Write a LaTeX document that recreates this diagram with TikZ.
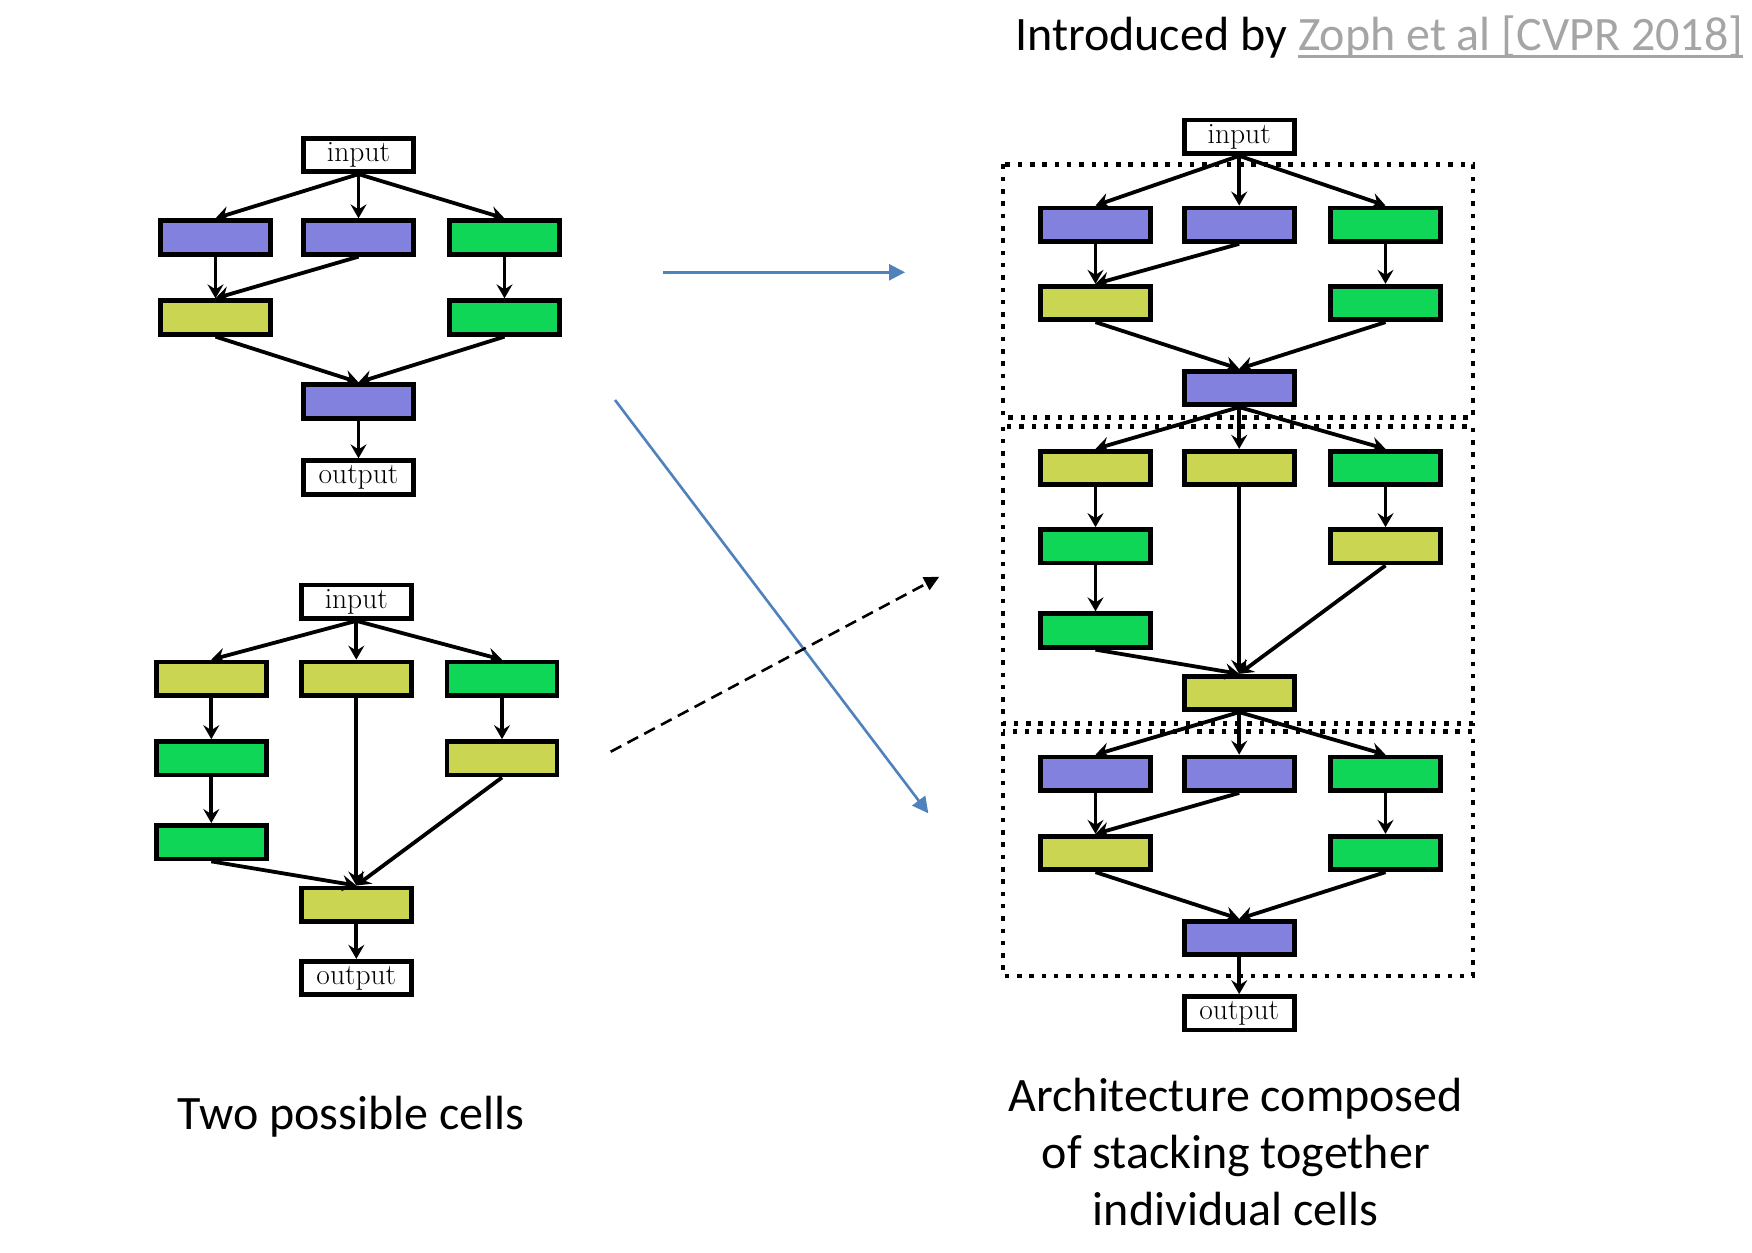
\documentclass[tikz,border=0pt]{standalone}
\usepackage{fontspec}
\newfontfamily\calibfont{Carlito}
\usetikzlibrary{arrows.meta}
\definecolor{opblue}{RGB}{130,130,222}
\definecolor{opgreen}{RGB}{16,214,88}
\definecolor{opyellow}{RGB}{202,213,82}
\definecolor{linkgray}{RGB}{165,165,165}
\definecolor{arrowblue}{RGB}{79,129,189}
\begin{document}
\begin{tikzpicture}[x=1pt,y=-1pt,
  op/.style={draw=black, line width=4.8pt, minimum width=110pt, minimum height=33.5pt, inner sep=0pt},
  bl/.style={op, fill=opblue},
  gr/.style={op, fill=opgreen},
  ye/.style={op, fill=opyellow},
  io/.style={op, fill=white, font=\fontsize{29.5}{34}\selectfont},
  conn/.style={line width=3.8pt, -{Stealth[length=14pt,width=16pt,inset=5pt]}},
  cellbox/.style={line width=4.5pt, dash pattern=on 4.5pt off 7.8pt},
  bigarrow/.style={arrowblue, line width=2.6pt, -{Triangle[length=16pt,width=16pt]}},
  dasharrow/.style={black, line width=2.6pt, dash pattern=on 12pt off 7pt, -{Triangle[length=15pt,width=14pt]}},
  caption/.style={anchor=base, inner sep=0pt, font=\calibfont\fontsize{48}{57}\selectfont},
]
\useasboundingbox (0,0) rectangle (1752,1252);
\fill[white] (0,0) rectangle (1752,1252);

% ---------- top-left cell ----------
\node[io] (a-in) at (358.5,155) {input};
\node[bl] (a-1) at (215.5,237.5) {};
\node[bl] (a-2) at (358.5,237.5) {};
\node[gr] (a-3) at (504.5,237.5) {};
\node[ye] (a-4) at (215.5,317.5) {};
\node[gr] (a-5) at (504.5,317.5) {};
\node[bl] (a-o) at (358.5,401.5) {};
\node[io] (a-out) at (358.5,477.5) {output};
\draw[conn] (a-in.south) -- (a-1.north);
\draw[conn] (a-in.south) -- (a-2.north);
\draw[conn] (a-in.south) -- (a-3.north);
\draw[conn] (a-1.south) -- (a-4.north);
\draw[conn] (a-2.south) -- (a-4.north);
\draw[conn] (a-3.south) -- (a-5.north);
\draw[conn] (a-4.south) -- (a-o.north);
\draw[conn] (a-5.south) -- (a-o.north);
\draw[conn] (a-o.south) -- (a-out.north);

% ---------- bottom-left cell ----------
\node[io] (b-in) at (356.3,601.7) {input};
\node[ye] (b-1) at (211.3,678.8) {};
\node[ye] (b-2) at (356.3,678.8) {};
\node[gr] (b-3) at (502,678.8) {};
\node[gr] (b-4) at (211.3,758.3) {};
\node[ye] (b-5) at (502,758.3) {};
\node[gr] (b-6) at (211.3,842.2) {};
\node[ye] (b-o) at (356.3,904.7) {};
\node[io] (b-out) at (356.3,978) {output};
\draw[conn] (b-in.south) -- (b-1.north);
\draw[conn] (b-in.south) -- (b-2.north);
\draw[conn] (b-in.south) -- (b-3.north);
\draw[conn] (b-1.south) -- (b-4.north);
\draw[conn] (b-4.south) -- (b-6.north);
\draw[conn] (b-3.south) -- (b-5.north);
\draw[conn] (b-6.south) -- (b-o.north);
\draw[conn] (b-2.south) -- (b-o.north);
\draw[conn] (b-5.south) -- (b-o.north);
\draw[conn] (b-o.south) -- (b-out.north);

% ---------- right architecture ----------
\draw[cellbox] (1003,164.5) rectangle (1473,417.5);
\draw[cellbox] (1003,426.5) rectangle (1473,723.3);
\draw[cellbox] (1003,731.7) rectangle (1473,976);

\node[io] (c-in) at (1239.2,136.7) {input};
% cell 1
\node[bl] (c1-1) at (1095.5,224.7) {};
\node[bl] (c1-2) at (1239.2,224.7) {};
\node[gr] (c1-3) at (1385.5,224.7) {};
\node[ye] (c1-4) at (1095.5,303) {};
\node[gr] (c1-5) at (1385.5,303) {};
\node[bl] (c1-o) at (1239.2,388) {};
% cell 2
\node[ye] (c2-1) at (1095.5,468) {};
\node[ye] (c2-2) at (1239.2,468) {};
\node[gr] (c2-3) at (1385.5,468) {};
\node[gr] (c2-4) at (1095.5,546.3) {};
\node[ye] (c2-5) at (1385.5,546.3) {};
\node[gr] (c2-6) at (1095.5,630.5) {};
\node[ye] (c2-o) at (1239.2,693) {};
% cell 3
\node[bl] (c3-1) at (1095.5,773.8) {};
\node[bl] (c3-2) at (1239.2,773.8) {};
\node[gr] (c3-3) at (1385.5,773.8) {};
\node[ye] (c3-4) at (1095.5,853) {};
\node[gr] (c3-5) at (1385.5,853) {};
\node[bl] (c3-o) at (1239.2,938) {};
\node[io] (c-out) at (1239.2,1013.3) {output};

\draw[conn] (c-in.south) -- (c1-1.north);
\draw[conn] (c-in.south) -- (c1-2.north);
\draw[conn] (c-in.south) -- (c1-3.north);
\draw[conn] (c1-1.south) -- (c1-4.north);
\draw[conn] (c1-2.south) -- (c1-4.north);
\draw[conn] (c1-3.south) -- (c1-5.north);
\draw[conn] (c1-4.south) -- (c1-o.north);
\draw[conn] (c1-5.south) -- (c1-o.north);

\draw[conn] (c1-o.south) -- (c2-1.north);
\draw[conn] (c1-o.south) -- (c2-2.north);
\draw[conn] (c1-o.south) -- (c2-3.north);
\draw[conn] (c2-1.south) -- (c2-4.north);
\draw[conn] (c2-4.south) -- (c2-6.north);
\draw[conn] (c2-3.south) -- (c2-5.north);
\draw[conn] (c2-6.south) -- (c2-o.north);
\draw[conn] (c2-2.south) -- (c2-o.north);
\draw[conn] (c2-5.south) -- (c2-o.north);

\draw[conn] (c2-o.south) -- (c3-1.north);
\draw[conn] (c2-o.south) -- (c3-2.north);
\draw[conn] (c2-o.south) -- (c3-3.north);
\draw[conn] (c3-1.south) -- (c3-4.north);
\draw[conn] (c3-2.south) -- (c3-4.north);
\draw[conn] (c3-3.south) -- (c3-5.north);
\draw[conn] (c3-4.south) -- (c3-o.north);
\draw[conn] (c3-5.south) -- (c3-o.north);
\draw[conn] (c3-o.south) -- (c-out.north);

% ---------- big arrows ----------
\coordinate (h1) at (663.3,272.3);
\coordinate (h2) at (905,272.3);
\draw[bigarrow] (h1) -- (h2);
\coordinate (d1) at (615,400);
\coordinate (d2) at (928.3,813.3);
\draw[bigarrow] (d1) -- (d2);
\coordinate (e1) at (610.7,751.7);
\coordinate (e2) at (939.3,576.7);
\draw[dasharrow] (e1) -- (e2);

% ---------- texts ----------
\node[caption, anchor=base west] (intro) at (1015,50.5) {Introduced by};
\node[caption, anchor=base west, text=linkgray] (zoph) at ([xshift=10.8pt]intro.base east) {Zoph et al [CVPR 2018]};
\draw[linkgray, line width=2.2pt] ([yshift=-6pt]zoph.base west) -- ([yshift=-6pt]zoph.base east);

\node[caption] (cap1) at (351,1129) {Two possible cells};
\node[caption] (cap2a) at (1235.7,1111) {Architecture composed};
\node[caption] (cap2b) at (1235.7,1168) {of stacking together};
\node[caption] (cap2c) at (1235.7,1225) {individual cells};
\end{tikzpicture}
\end{document}
